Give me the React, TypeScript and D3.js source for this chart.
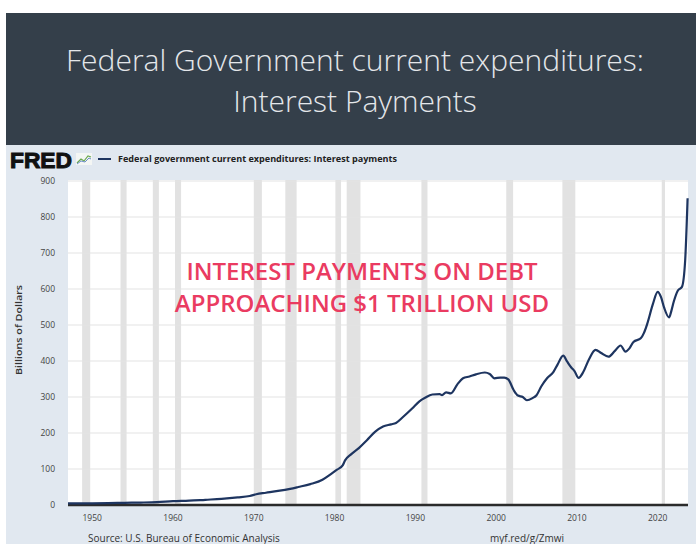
import React, { useRef, useEffect } from "react";
import * as d3 from "d3";

// quarter dates (decimal years) and interest payments, billions of dollars
const dates = [
  1947.0, 1948.0, 1950.0, 1952.0, 1954.0, 1956.0, 1958.0, 1960.0, 1962.0, 1964.0,
  1966.0, 1968.0, 1969.5, 1970.3, 1971.5, 1973.0, 1974.5, 1975.5, 1977.0, 1978.5,
  1979.5, 1980.3, 1981.0, 1981.3, 1982.0, 1983.0, 1984.0, 1985.0, 1986.0, 1987.0,
  1987.6, 1988.4, 1989.6, 1990.5, 1991.2, 1992.1, 1993.0, 1993.3, 1993.8, 1994.4,
  1995.2, 1995.9, 1996.7, 1997.5, 1998.6, 1999.2, 1999.8, 2000.5, 2001.0, 2001.5,
  2002.2, 2002.7, 2003.3, 2003.8, 2004.5, 2005.0, 2005.6, 2006.3, 2007.1, 2007.6,
  2008.3, 2008.8, 2009.3, 2009.7, 2010.2, 2010.8, 2011.5, 2012.3, 2013.0, 2013.9,
  2014.7, 2015.4, 2016.0, 2016.5, 2017.0, 2017.9, 2018.3, 2018.7, 2019.4, 2020.0,
  2020.4, 2020.8, 2021.4, 2021.7, 2022.0, 2022.5, 2023.0, 2023.4, 2023.7,
];
const payments = [
  4.3, 4.5, 4.7, 5.2, 6.0, 6.8, 8.0, 10.5, 12, 14.5,
  17, 21, 25, 30, 34, 39, 45, 50, 58, 70,
  85, 98, 110, 124, 140, 158, 180, 203, 218, 224,
  228, 243, 268, 288, 298, 307, 308, 305, 313, 310,
  335, 352, 357, 363, 368, 364, 352, 354, 354, 349,
  318, 304, 300, 291, 297, 305, 330, 352, 370, 390,
  415, 398, 382, 372, 353, 370, 405, 431, 422, 412,
  428, 443, 426, 435, 453, 463, 478, 503, 558, 592,
  578, 548, 521, 540, 566, 596, 606, 680, 852,
];

// shaded recession periods as they sit in the picture
const recessionStart = [1948.75, 1953.5, 1957.5, 1960.25, 1970.0, 1973.9, 1980.1, 1981.5, 1990.75, 2001.25, 2008.2, 2020.5];
const recessionEnd = [1949.75, 1954.25, 1958.25, 1961.0, 1971.0, 1975.3, 1980.8, 1983.2, 1991.5, 2002.1, 2009.8, 2020.9];

const yTicks = [0, 100, 200, 300, 400, 500, 600, 700, 800, 900];
const xTicks = [1950, 1960, 1970, 1980, 1990, 2000, 2010, 2020];

const titleLines = ["Federal Government current expenditures:", "Interest Payments"];
const noteLines = ["INTEREST PAYMENTS ON DEBT", "APPROACHING $1 TRILLION USD"];
const seriesName = "Federal government current expenditures: Interest payments";

const InterestChart = () => {
  const svgRef = useRef<SVGSVGElement>(null);

  useEffect(() => {
    if (!svgRef.current) return;
    const W = 696;
    const H = 544;
    const plot = { left: 68, right: 688, top: 181, bottom: 505 };

    const x = d3.scaleLinear().domain([1947, 2023.75]).range([plot.left, plot.right]);
    const y = d3.scaleLinear().domain([0, 900]).range([plot.bottom, plot.top]);

    const svg = d3.select(svgRef.current);
    svg.selectAll("*").remove();
    svg.attr("width", W).attr("height", H);

    // white page, header bar, light panel
    svg.append("rect").attr("width", W).attr("height", H).attr("fill", "#ffffff");
    svg.append("rect").attr("x", 6).attr("y", 13).attr("width", W - 6).attr("height", 132).attr("fill", "#343f4a");
    svg.append("rect").attr("x", 6).attr("y", 145).attr("width", W - 6).attr("height", H - 145).attr("fill", "#e1e8f0");

    svg
      .append("g")
      .selectAll("text")
      .data(titleLines)
      .join("text")
      .attr("x", 355)
      .attr("y", (_, i) => 71 + i * 41)
      .attr("text-anchor", "middle")
      .attr("font-family", "'Open Sans', sans-serif")
      .attr("font-weight", 300)
      .attr("font-size", 30)
      .attr("fill", "#e4e7ea")
      .text((d) => d);

    // FRED logo + legend
    svg
      .append("text")
      .attr("x", 10)
      .attr("y", 168)
      .attr("font-family", "'Liberation Sans', Arial, sans-serif")
      .attr("font-weight", 900)
      .attr("font-size", 22)
      .attr("fill", "#111")
      .attr("stroke", "#111")
      .attr("stroke-width", 1)
      .attr("textLength", 62)
      .attr("lengthAdjust", "spacingAndGlyphs")
      .text("FRED");
    const icon = svg.append("g").attr("transform", "translate(76,153)");
    icon.append("rect").attr("width", 16).attr("height", 12).attr("fill", "#f4f6f4");
    icon.append("path").attr("d", "M1,10 L5,6 L8,8 L12,3 L15,4").attr("fill", "none").attr("stroke", "#6aa84f").attr("stroke-width", 1.2);
    icon.append("path").attr("d", "M1,11 L5,8 L9,9 L13,5 L15,6").attr("fill", "none").attr("stroke", "#6d8fc7").attr("stroke-width", 1);
    svg.append("line").attr("x1", 98).attr("x2", 111).attr("y1", 159).attr("y2", 159).attr("stroke", "#1e3560").attr("stroke-width", 2);
    svg
      .append("text")
      .attr("x", 118)
      .attr("y", 162)
      .attr("font-family", "'Open Sans', sans-serif")
      .attr("font-weight", 700)
      .attr("font-size", 8.5)
      .attr("fill", "#222")
      .attr("textLength", 279)
      .attr("lengthAdjust", "spacingAndGlyphs")
      .text(seriesName);

    // plot background
    svg
      .append("rect")
      .attr("x", plot.left)
      .attr("y", plot.top - 1)
      .attr("width", plot.right - plot.left)
      .attr("height", plot.bottom - plot.top + 1)
      .attr("fill", "#ffffff");

    // recession shading
    svg
      .append("g")
      .selectAll("rect")
      .data(recessionStart)
      .join("rect")
      .attr("x", (d) => x(d))
      .attr("y", plot.top - 1)
      .attr("width", (d, i) => Math.max(2, x(recessionEnd[i]) - x(d)))
      .attr("height", plot.bottom - plot.top + 1)
      .attr("fill", "#e2e2e2");

    // horizontal grid
    svg
      .append("g")
      .selectAll("line")
      .data(yTicks.filter((t) => t > 0))
      .join("line")
      .attr("x1", plot.left)
      .attr("x2", plot.right)
      .attr("y1", (d) => y(d))
      .attr("y2", (d) => y(d))
      .attr("stroke", "#e3e3e3")
      .attr("stroke-width", 1);

    // zero line
    svg
      .append("line")
      .attr("x1", plot.left)
      .attr("x2", plot.right)
      .attr("y1", y(0))
      .attr("y2", y(0))
      .attr("stroke", "#2b2b2b")
      .attr("stroke-width", 2.5);

    // y labels
    svg
      .append("g")
      .selectAll("text")
      .data(yTicks)
      .join("text")
      .attr("x", 55)
      .attr("y", (d) => y(d) + 3)
      .attr("text-anchor", "end")
      .attr("font-family", "'Open Sans', sans-serif")
      .attr("font-size", 8.5)
      .attr("fill", "#444")
      .text((d) => d);

    // x labels
    svg
      .append("g")
      .selectAll("text")
      .data(xTicks)
      .join("text")
      .attr("x", (d) => x(d))
      .attr("y", 521)
      .attr("text-anchor", "middle")
      .attr("font-family", "'Open Sans', sans-serif")
      .attr("font-size", 8.5)
      .attr("fill", "#444")
      .text((d) => d);

    svg
      .append("text")
      .attr("transform", "translate(22,330) rotate(-90)")
      .attr("text-anchor", "middle")
      .attr("font-family", "'Open Sans', sans-serif")
      .attr("font-weight", 600)
      .attr("font-size", 9)
      .attr("fill", "#333")
      .attr("textLength", 90)
      .attr("lengthAdjust", "spacingAndGlyphs")
      .text("Billions of Dollars");

    // series line
    const line = d3
      .line<number>()
      .x((_, i) => x(dates[i]))
      .y((d) => y(d))
      .curve(d3.curveMonotoneX);
    svg
      .append("path")
      .datum(payments)
      .attr("d", line)
      .attr("fill", "none")
      .attr("stroke", "#1e3560")
      .attr("stroke-width", 2.2)
      .attr("stroke-linejoin", "round");

    // annotation
    svg
      .append("g")
      .selectAll("text")
      .data(noteLines)
      .join("text")
      .attr("x", 362)
      .attr("y", (_, i) => 280 + i * 32)
      .attr("text-anchor", "middle")
      .attr("font-family", "'Open Sans', sans-serif")
      .attr("font-weight", 600)
      .attr("font-size", 24)
      .attr("fill", "#ea3b61")
      .text((d) => d);

    // footer
    svg
      .append("text")
      .attr("x", 88)
      .attr("y", 542)
      .attr("font-family", "'Open Sans', sans-serif")
      .attr("font-size", 10)
      .attr("fill", "#333")
      .text("Source: U.S. Bureau of Economic Analysis");
    svg
      .append("text")
      .attr("x", 490)
      .attr("y", 542)
      .attr("font-family", "'Open Sans', sans-serif")
      .attr("font-size", 10)
      .attr("fill", "#333")
      .text("myf.red/g/Zmwi");
  }, []);

  return (
    <div style={{ position: "absolute", left: 0, top: 0 }}>
      <svg ref={svgRef} style={{ display: "block" }}></svg>
    </div>
  );
};

export default function App() {
  return <InterestChart />;
}
